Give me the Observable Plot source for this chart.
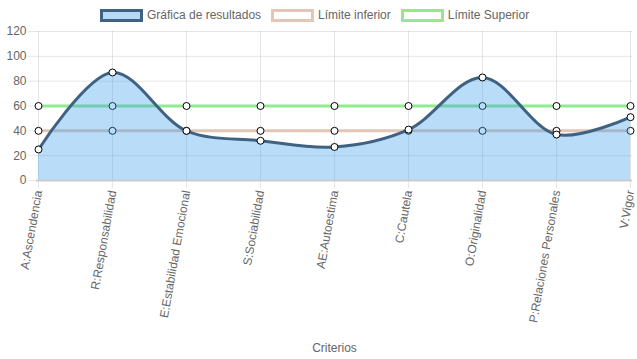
<!DOCTYPE html>
<html>
<head>
<meta charset="utf-8">
<script src="https://cdn.jsdelivr.net/npm/d3@7"></script>
<script src="https://cdn.jsdelivr.net/npm/@observablehq/plot@0.6"></script>
<style>
  html, body { margin: 0; padding: 0; background: #fff; }
  body { position: relative; width: 637px; height: 359px; overflow: hidden; font-family: "Liberation Sans", Arial, sans-serif; }
  #legend { position: absolute; top: 8px; left: 100px; display: flex; align-items: center; z-index: 2; font-size: 12px; color: #666; white-space: nowrap; }
  .item { display: flex; align-items: center; margin-right: 10px; }
  .box { width: 37px; height: 7px; border: 3px solid; margin-right: 4px; }
</style>
</head>
<body>
<div id="legend"></div>
<div id="chart"></div>
<script>
const categories = ["A:Ascendencia", "R:Responsabilidad", "E:Estabilidad Emocional", "S:Sociabilidad", "AE:Autoestima", "C:Cautela", "O:Originalidad", "P:Relaciones Personales", "V:Vigor"];
const resultados = [25, 87, 40, 32, 27, 41, 83, 37, 51];
const limiteInferior = [40, 40, 40, 40, 40, 40, 40, 40, 40];
const limiteSuperior = [60, 60, 60, 60, 60, 60, 60, 60, 60];
const yTicks = [0, 20, 40, 60, 80, 100, 120];
const seriesNames = ["Gráfica de resultados", "Límite inferior", "Límite Superior"];

const colors = {
  res: "#3f6283",
  resFill: "rgba(54,155,235,0.35)",
  inf: "#e3c6b6",
  sup: "#90ea90"
};

const rows = (vals) => categories.map((c, i) => ({cat: c, v: vals[i]}));
const dRes = rows(resultados), dInf = rows(limiteInferior), dSup = rows(limiteSuperior);

// legend
const legend = document.getElementById("legend");
[[seriesNames[0], colors.res, "#b8d9f5"], [seriesNames[1], colors.inf, "#fff"], [seriesNames[2], colors.sup, "#fff"]].forEach(([n, s, f]) => {
  const it = document.createElement("div"); it.className = "item";
  const b = document.createElement("div"); b.className = "box"; b.style.borderColor = s; b.style.background = f;
  const t = document.createElement("span"); t.textContent = n;
  it.appendChild(b); it.appendChild(t); legend.appendChild(it);
});

const chart = Plot.plot({
  width: 637,
  height: 359,
  marginTop: 31,
  marginBottom: 179,
  marginLeft: 36,
  marginRight: 5,
  style: {fontFamily: "Liberation Sans, Arial, sans-serif", fontSize: "12px", color: "#666", background: "transparent"},
  x: {type: "point", domain: categories, padding: 0, label: null},
  y: {domain: [0, 120], label: null},
  marks: [
    Plot.gridY(yTicks, {stroke: "#000", strokeOpacity: 0.1}),
    Plot.gridX(categories, {stroke: "#000", strokeOpacity: 0.1}),
    Plot.axisY(yTicks, {tickSize: 8, tickPadding: 2, stroke: "#e6e6e6", fill: "#666", label: null}),
    Plot.axisX(categories, {tickSize: 8, tickPadding: 2, tickRotate: -80, stroke: "#e6e6e6", fill: "#666", label: null}),
    Plot.line(dSup, {x: "cat", y: "v", stroke: colors.sup, strokeWidth: 3}),
    Plot.line(dInf, {x: "cat", y: "v", stroke: colors.inf, strokeWidth: 3}),
    Plot.dot(dSup, {x: "cat", y: "v", r: 3.5, fill: "#fff", stroke: "#000", strokeWidth: 1}),
    Plot.dot(dInf, {x: "cat", y: "v", r: 3.5, fill: "#fff", stroke: "#000", strokeWidth: 1}),
    Plot.areaY(dRes, {x: "cat", y: "v", fill: colors.resFill, curve: "catmull-rom"}),
    Plot.ruleY([0], {stroke: "#ccc", strokeWidth: 2}),
    Plot.line(dRes, {x: "cat", y: "v", stroke: colors.res, strokeWidth: 3, curve: "catmull-rom"}),
    Plot.dot(dRes, {x: "cat", y: "v", r: 3.5, fill: "#fff", stroke: "#000", strokeWidth: 1}),
    Plot.text(["Criterios"], {frameAnchor: "bottom", dy: 171, fill: "#666", fontSize: 12})
  ]
});
document.getElementById("chart").appendChild(chart);
</script>
</body>
</html>
